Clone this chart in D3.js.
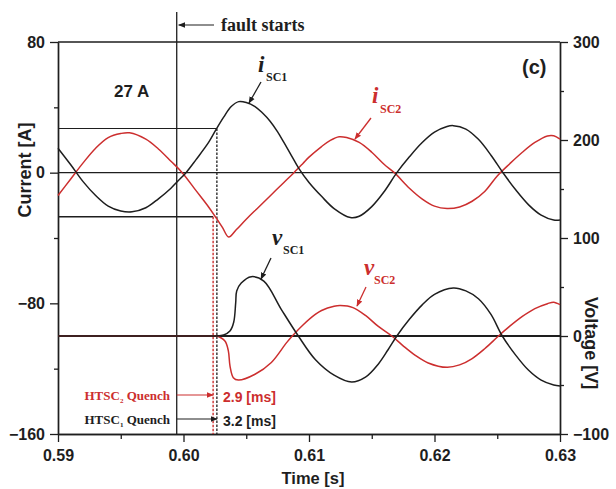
<!DOCTYPE html>
<html><head><meta charset="utf-8">
<script src="https://cdn.jsdelivr.net/npm/d3@7"></script>
<style>body{margin:0;background:#fff}svg{display:block}</style>
</head><body><svg id="c" width="616" height="489"></svg>
<script>
// ---- data ----
const xTicks = [0.59, 0.60, 0.61, 0.62, 0.63];
const xMinor = [0.595, 0.605, 0.615, 0.625];
const curTicks = [80, 0, -80, -160];
const curMinor = [40, -40, -120];
const voltTicks = [300, 200, 100, 0, -100];
const voltMinor = [250, 150, 50, -50];
const faultTime = 0.59946;
const quench2Delay = 0.0029; // HTSC2
const quench1Delay = 0.0032; // HTSC1
const limitCurrent = 27;

const iSC1 = [[0.590,15],[0.591,5],[0.592,-5.5],[0.593,-14],[0.594,-20.5],[0.595,-23.5],[0.5959,-24],[0.597,-21.5],[0.598,-16],[0.599,-9.5],[0.5995,-5.5],[0.6002,0],[0.601,8],[0.602,18.5],[0.6026,26.5],[0.6032,34],[0.6038,40.5],[0.6044,43.5],[0.6050,43],[0.6057,40.5],[0.6063,36.5],[0.6069,31.5],[0.6075,25],[0.608,18.5],[0.6086,10.5],[0.6092,2.5],[0.610,-6],[0.611,-14.5],[0.612,-22],[0.6133,-27.5],[0.614,-26.7],[0.615,-20.8],[0.616,-11.5],[0.6170,0],[0.618,9.7],[0.619,18.3],[0.620,24.8],[0.621,28.3],[0.6215,28.8],[0.6225,26.7],[0.6235,20.4],[0.6245,10.7],[0.6255,-0.5],[0.6265,-10.8],[0.6275,-19.7],[0.6285,-26],[0.6295,-29],[0.630,-29]];
const iSC2 = [[0.590,-14],[0.591,-4],[0.592,6],[0.593,15],[0.594,21.5],[0.595,24],[0.5957,24.4],[0.597,20.5],[0.598,14.5],[0.599,7],[0.5999,0],[0.601,-11],[0.602,-21],[0.6026,-27.7],[0.6031,-33.5],[0.6036,-39.4],[0.6042,-35],[0.605,-28.5],[0.606,-21],[0.607,-13.5],[0.608,-6],[0.6088,0],[0.6095,5.5],[0.610,9.5],[0.611,16],[0.6117,19.8],[0.6124,22],[0.613,21.5],[0.614,18.5],[0.615,12.5],[0.616,5],[0.6168,0],[0.618,-9.5],[0.619,-16],[0.620,-20.5],[0.621,-22],[0.622,-21],[0.623,-17.5],[0.624,-11.5],[0.625,-2],[0.626,5.5],[0.627,12.5],[0.628,18.5],[0.629,22.5],[0.6295,22.6],[0.630,20.5]];
const vSC1 = [[0.590,0],[0.595,0],[0.600,0],[0.6022,0],[0.6026,0],[0.6032,1],[0.6037,5],[0.6040,14],[0.60416,34],[0.60424,46],[0.6046,54],[0.6054,60.5],[0.6064,56],[0.6078,27],[0.60915,0],[0.6105,-24],[0.612,-40],[0.6134,-47],[0.6145,-42],[0.6155,-29],[0.6163,-14],[0.6170,0],[0.618,17],[0.619,31.5],[0.620,42.5],[0.6215,49],[0.6225,46],[0.6235,38],[0.6245,22],[0.6254,0],[0.6265,-20],[0.6275,-35],[0.6285,-45],[0.6295,-50],[0.630,-51]];
const vSC2 = [[0.590,0],[0.595,0],[0.600,0],[0.6022,0],[0.6026,0],[0.6033,-5],[0.60357,-15],[0.60371,-31],[0.60397,-42.5],[0.60437,-45],[0.6057,-39],[0.607,-27],[0.6082,-7],[0.60867,0],[0.6095,11],[0.6105,22],[0.611,26],[0.612,30.3],[0.6125,31],[0.6135,29],[0.6145,21],[0.6155,10],[0.6166,0],[0.6175,-10],[0.6185,-20],[0.6195,-27.5],[0.621,-32],[0.622,-29.5],[0.623,-23],[0.624,-13],[0.6251,0],[0.626,10],[0.627,20],[0.628,28],[0.629,33],[0.6295,34.5],[0.630,32]];

// ---- drawing ----
const svg = d3.select("#c");
const L = 58, R = 560, T = 42, B = 434;
const RED = "#cc2e2e", BLK = "#1e1e1e";
const SANS = "'Liberation Sans', Arial, sans-serif";
const SERIF = "'Liberation Serif', 'Times New Roman', serif";

const x = d3.scaleLinear().domain([0.59, 0.63]).range([L, R]);
const yC = d3.scaleLinear().domain([-160, 80]).range([B, T]);
const yV = d3.scaleLinear().domain([-100, 300]).range([B, T]);

const defs = svg.append("defs");
function marker(id, color) {
  defs.append("marker").attr("id", id).attr("viewBox", "0 0 10 10")
    .attr("refX", 9).attr("refY", 5).attr("markerWidth", 7).attr("markerHeight", 7)
    .attr("markerUnits", "userSpaceOnUse").attr("orient", "auto")
    .append("path").attr("d", "M0,1 L10,5 L0,9 Z").attr("fill", color);
}
marker("ab", BLK); marker("ar", RED);

svg.append("line").attr("x1", L).attr("x2", R).attr("y1", T).attr("y2", T)
  .attr("stroke", BLK).attr("stroke-width", 1.3);

function styleAxis(g) {
  g.selectAll(".domain").attr("stroke", BLK).attr("stroke-width", 1.4);
  g.selectAll(".tick line").attr("stroke", BLK).attr("stroke-width", 1.3);
  g.selectAll("text").attr("font-family", SANS).attr("font-weight", "bold")
    .attr("font-size", 16).attr("fill", BLK);
}
const gx = svg.append("g").attr("transform", `translate(0,${B})`)
  .call(d3.axisBottom(x).tickValues(xTicks).tickFormat(d3.format(".2f")).tickSize(8).tickSizeOuter(0).tickPadding(8));
styleAxis(gx);
const gxm = svg.append("g").attr("transform", `translate(0,${B})`)
  .call(d3.axisBottom(x).tickValues(xMinor).tickFormat("").tickSize(5).tickSizeOuter(0));
styleAxis(gxm);

const gl = svg.append("g").attr("transform", `translate(${L},0)`)
  .call(d3.axisLeft(yC).tickValues(curTicks).tickSize(8).tickSizeOuter(0).tickPadding(5));
styleAxis(gl);
const glm = svg.append("g").attr("transform", `translate(${L},0)`)
  .call(d3.axisLeft(yC).tickValues(curMinor).tickFormat("").tickSize(4).tickSizeOuter(0));
styleAxis(glm);

const gr = svg.append("g").attr("transform", `translate(${R},0)`)
  .call(d3.axisRight(yV).tickValues(voltTicks).tickSize(8).tickSizeOuter(0).tickPadding(5));
styleAxis(gr);
const grm = svg.append("g").attr("transform", `translate(${R},0)`)
  .call(d3.axisRight(yV).tickValues(voltMinor).tickFormat("").tickSize(4).tickSizeOuter(0));
styleAxis(grm);

// axis titles
svg.append("text").attr("transform", `translate(31,170) rotate(-90)`).attr("text-anchor", "middle")
  .attr("font-family", SANS).attr("font-weight", "bold").attr("font-size", 18).attr("fill", BLK).text("Current [A]");
svg.append("text").attr("transform", `translate(585,343) rotate(90)`).attr("text-anchor", "middle")
  .attr("font-family", SANS).attr("font-weight", "bold").attr("font-size", 18).attr("fill", BLK).text("Voltage [V]");
svg.append("text").attr("x", 313).attr("y", 484).attr("text-anchor", "middle")
  .attr("font-family", SANS).attr("font-weight", "bold").attr("font-size", 16.5).attr("fill", BLK).text("Time [s]");

// reference lines
svg.append("line").attr("x1", L).attr("x2", R).attr("y1", yC(0)).attr("y2", yC(0))
  .attr("stroke", BLK).attr("stroke-width", 1.1);
svg.append("line").attr("x1", L).attr("x2", R).attr("y1", yV(0)).attr("y2", yV(0))
  .attr("stroke", BLK).attr("stroke-width", 1.8);

const xQ2 = x(faultTime + quench2Delay), xQ1 = x(faultTime + quench1Delay);
svg.append("line").attr("x1", L).attr("x2", xQ1).attr("y1", yC(limitCurrent)).attr("y2", yC(limitCurrent))
  .attr("stroke", BLK).attr("stroke-width", 1.1);
svg.append("line").attr("x1", L).attr("x2", xQ2).attr("y1", yC(-limitCurrent)).attr("y2", yC(-limitCurrent))
  .attr("stroke", BLK).attr("stroke-width", 1.3);
svg.append("line").attr("x1", x(faultTime)).attr("x2", x(faultTime)).attr("y1", 12).attr("y2", B)
  .attr("stroke", BLK).attr("stroke-width", 1.3);
svg.append("line").attr("x1", xQ2).attr("x2", xQ2).attr("y1", yC(-limitCurrent)).attr("y2", B)
  .attr("stroke", RED).attr("stroke-width", 1.4).attr("stroke-dasharray", "2.5,1.5");
svg.append("line").attr("x1", xQ1).attr("x2", xQ1).attr("y1", yC(limitCurrent)).attr("y2", B)
  .attr("stroke", BLK).attr("stroke-width", 1.3).attr("stroke-dasharray", "2.5,1.5");

// curves
const curve = d3.curveCatmullRom.alpha(0.5);
const lineC = d3.line().x(d => x(d[0])).y(d => yC(d[1])).curve(curve);
const lineV = d3.line().x(d => x(d[0])).y(d => yV(d[1])).curve(curve);
svg.append("path").datum(vSC2).attr("d", lineV).attr("fill", "none").attr("stroke", RED).attr("stroke-width", 1.5);
svg.append("path").datum(vSC1).attr("d", lineV).attr("fill", "none").attr("stroke", BLK).attr("stroke-width", 1.5);
svg.append("path").datum(iSC2).attr("d", lineC).attr("fill", "none").attr("stroke", RED).attr("stroke-width", 1.5);
svg.append("path").datum(iSC1).attr("d", lineC).attr("fill", "none").attr("stroke", BLK).attr("stroke-width", 1.5);

// fault starts annotation
svg.append("line").attr("x1", 214).attr("x2", x(faultTime) + 2).attr("y1", 25).attr("y2", 25)
  .attr("stroke", BLK).attr("stroke-width", 1.2).attr("marker-end", "url(#ab)");
svg.append("text").attr("x", 221).attr("y", 31).attr("font-family", SERIF).attr("font-weight", "bold")
  .attr("font-size", 18).attr("fill", BLK).text("fault starts");

svg.append("text").attr("x", 114).attr("y", 97).attr("font-family", SANS).attr("font-weight", "bold")
  .attr("font-size", 17).attr("fill", BLK).text("27 A");
svg.append("text").attr("x", 522).attr("y", 74).attr("font-family", SANS).attr("font-weight", "bold")
  .attr("font-size", 20).attr("fill", BLK).text("(c)");

// series labels
function seriesLabel(sym, sub, xs, ys, subX, subY, color, ax1, ay1, ax2, ay2, mk) {
  const g = svg.append("g").attr("fill", color);
  g.append("text").attr("x", xs).attr("y", ys).attr("font-family", SERIF).attr("font-style", "italic")
    .attr("font-weight", "bold").attr("font-size", 23).text(sym);
  g.append("text").attr("x", subX).attr("y", subY).attr("font-family", SERIF)
    .attr("font-weight", "bold").attr("font-size", 12).text(sub);
  svg.append("line").attr("x1", ax1).attr("y1", ay1).attr("x2", ax2).attr("y2", ay2)
    .attr("stroke", color).attr("stroke-width", 1.3).attr("marker-end", `url(#${mk})`);
}
seriesLabel("i", "SC1", 258, 72, 266, 81, BLK, 261, 82, 249, 103, "ab");
seriesLabel("i", "SC2", 372, 103, 380, 113, RED, 371, 118, 355, 139, "ar");
seriesLabel("v", "SC1", 272, 245, 283, 254, BLK, 271, 258, 261, 279, "ab");
seriesLabel("v", "SC2", 364, 275, 374, 284, RED, 366, 287, 357, 306, "ar");

// quench annotations
function quench(subn, color, yText, yArrow, xEnd, ms, mk) {
  const t = svg.append("text").attr("x", 170).attr("y", yText).attr("text-anchor", "end")
    .attr("font-family", SERIF).attr("font-weight", "bold").attr("font-size", 13).attr("fill", color);
  t.append("tspan").text("HTSC");
  t.append("tspan").attr("font-size", 7).attr("dy", 3).text(subn);
  t.append("tspan").attr("dy", -3).text(" Quench");
  svg.append("line").attr("x1", x(faultTime)).attr("x2", xEnd).attr("y1", yArrow).attr("y2", yArrow)
    .attr("stroke", color).attr("stroke-width", 1.2).attr("marker-end", `url(#${mk})`);
  svg.append("text").attr("x", 223).attr("y", yText + 2).attr("font-family", SANS).attr("font-weight", "bold")
    .attr("font-size", 14).attr("fill", color).text(ms + " [ms]");
}
quench("2", RED, 400, 395, xQ2, (quench2Delay * 1000).toFixed(1), "ar");
quench("1", BLK, 424, 419, xQ1, (quench1Delay * 1000).toFixed(1), "ab");
</script></body></html>
